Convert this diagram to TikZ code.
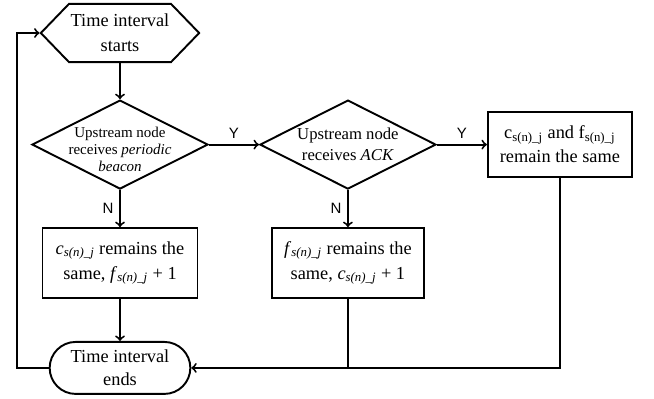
\documentclass[tikz,border=0pt]{standalone}
\usepackage{fontspec}
\setmainfont{Liberation Serif}
\newfontfamily\ynfont{Liberation Sans}
\usetikzlibrary{shapes.geometric, shapes.symbols, shapes.misc, arrows, positioning}

\newcommand{\snjit}{\textsubscript{\textit{s(n)\_j}}}
\newcommand{\snjup}{\textsubscript{s(n)\_j}}

\begin{document}
\begin{tikzpicture}[
        node distance=22.2pt and 30pt,
        block/.style={rectangle, draw, line width=1.15pt, align=center, minimum width=93pt, minimum height=42pt, inner sep=2pt, font=\fontsize{11}{15}\selectfont},
        decision/.style={diamond, draw, line width=1.15pt, minimum width=105.6pt, minimum height=53.4pt, inner sep=0pt},
        hexa/.style={signal, signal to=west and east, signal pointer angle=92, draw, line width=1.15pt, align=center, minimum width=85pt, minimum height=35pt, inner sep=1pt, font=\fontsize{11}{15}\selectfont},
        terminal/.style={rounded rectangle, draw, line width=1.15pt, align=center, minimum width=86.4pt, minimum height=31.2pt, inner xsep=1pt, inner ysep=0pt, font=\fontsize{11}{14}\selectfont},
        line/.style={draw, -to, line width=1.15pt},
        yn/.style={font=\ynfont\fontsize{9}{10}\selectfont}
    ]
        \useasboundingbox (0,0) rectangle (392.4pt,-238.8pt);

        \node [hexa] (start) at (72pt,-19.8pt) {Time interval\\starts};
        \node [decision, below=21.6pt of start, label={[align=center, yshift=-3pt, font=\fontsize{9}{10.2}\selectfont]center:Upstream node\\receives \textit{periodic}\\\textit{beacon}}] (beacon) {};
        \node [decision, right=of beacon, label={[align=center, font=\fontsize{10}{12.6}\selectfont]center:Upstream node\\receives \textit{ACK}}] (ack) {};
        \node [block, right=of ack, minimum width=86.4pt, minimum height=39pt, font=\fontsize{11}{14.4}\selectfont] (same) {c\snjup{} and f\snjup\\remain the same};
        \node [block, below=of beacon] (fplus) {\textit{c}\snjit{} remains the\\same, \textit{f}\snjit{} + 1};
        \node [block, below=of ack, minimum width=91pt] (cplus) {\textit{f}\snjit{} remains the\\same, \textit{c}\snjit{} + 1};
        \node [terminal, below=25.2pt of fplus] (ends) {Time interval\\ends};

        \path [line] (start) -- (beacon);
        \path [line] (beacon) -- node[above, yn] {Y} (ack);
        \path [line] (ack) -- node[above, yn] {Y} (same);
        \path [line] (beacon) -- node[left, yn] {N} (fplus);
        \path [line] (ack) -- node[left, yn] {N} (cplus);
        \path [line] (fplus) -- (ends);
        \path [line] (same.south) |- (ends.east);
        \draw [line width=1.15pt] (cplus.south) -- (cplus.south |- ends.east);
        \path [line] (ends.west) -- ++(-19.2pt,0) |- (start.west);
    \end{tikzpicture}
\end{document}
